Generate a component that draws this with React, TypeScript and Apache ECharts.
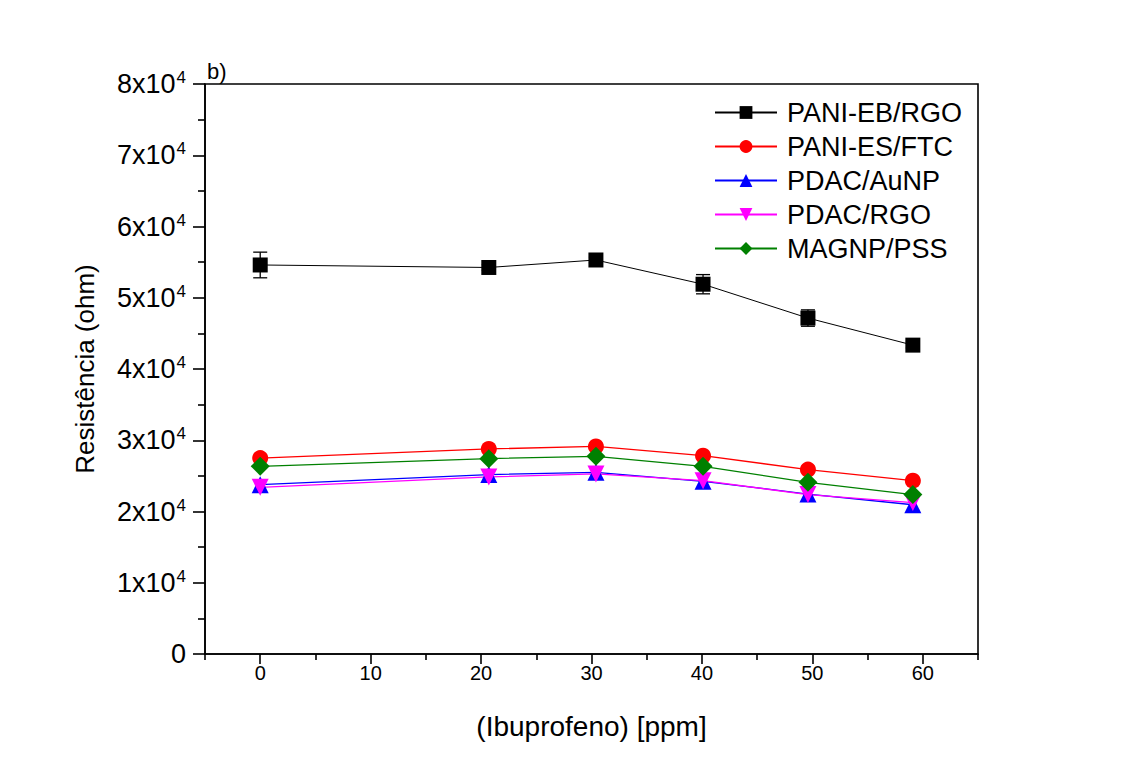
import React, { useEffect, useRef } from "react";
import * as echarts from "echarts";

const xValues = [0, 20.7, 30.4, 40.1, 49.6, 59.1];
const seriesNames = ["PANI-EB/RGO", "PANI-ES/FTC", "PDAC/AuNP", "PDAC/RGO", "MAGNP/PSS"];
const paniEbRgo = [54600, 54250, 55300, 51900, 47150, 43350];
const paniEbRgoErr = [1800, 400, 400, 1350, 1150, 400];
const paniEsFtc = [27500, 28780, 29140, 27840, 25880, 24330];
const pdacAunp = [23770, 25180, 25500, 24240, 22450, 20950];
const pdacRgo = [23390, 24850, 25270, 24330, 22370, 21250];
const magnpPss = [26340, 27420, 27740, 26340, 24100, 22370];
const yMajorTicks = [0, 10000, 20000, 30000, 40000, 50000, 60000, 70000, 80000];
const yMinorTicks = [5000, 15000, 25000, 35000, 45000, 55000, 65000, 75000];
const xMajorTicks = [0, 10, 20, 30, 40, 50, 60];
const xMinorTicks = [-5, 5, 15, 25, 35, 45, 55, 65];

const FONT = "'Liberation Sans', Arial, sans-serif";

export default function App() {
  const ref = useRef<HTMLDivElement>(null);
  useEffect(() => {
    if (!ref.current) return;
    const chart = echarts.init(ref.current, undefined, { renderer: "svg" });
    const pair = (arr: number[]) => xValues.map((x, i) => [x, arr[i]]);
    const mk = (name: string, data: number[], color: string, symbol: string, size: number, rotate = 0, width = 1.3) => ({
      name,
      type: "line",
      data: pair(data),
      symbol,
      symbolSize: size,
      symbolRotate: rotate,
      lineStyle: { color, width },
      itemStyle: { color },
      z: 3,
    });
    const errData = xValues.map((x, i) => [x, paniEbRgo[i] - paniEbRgoErr[i], paniEbRgo[i] + paniEbRgoErr[i]]);
    const axisLineStyle = { color: "#000", width: 1.6 };
    chart.setOption({
      animation: false,
      backgroundColor: "#ffffff",
      textStyle: { fontFamily: FONT },
      grid: {
        left: 205,
        right: 153,
        top: 84,
        bottom: 130,
        show: true,
        borderColor: "#000",
        borderWidth: 1.6,
        backgroundColor: "transparent",
      },
      graphic: [
        {
          type: "text",
          left: 207,
          top: 60,
          style: { text: "b)", fontSize: 22, fontFamily: FONT, fill: "#000" },
        },
      ],
      legend: {
        orient: "vertical",
        left: 709,
        top: 94,
        itemWidth: 62,
        itemHeight: 16,
        itemGap: 7,
        data: seriesNames,
        textStyle: { fontSize: 27, fontFamily: FONT, color: "#000", padding: [0, 0, 0, 5] },
      },
      xAxis: [
        {
          type: "value",
          min: -5,
          max: 65,
          interval: 5,
          name: "(Ibuprofeno) [ppm]",
          nameLocation: "middle",
          nameGap: 58,
          nameTextStyle: { fontSize: 28, fontFamily: FONT, color: "#000" },
          axisLine: { onZero: false, lineStyle: axisLineStyle },
          axisTick: { show: true, length: 10, customValues: xMajorTicks, lineStyle: axisLineStyle },
          splitLine: { show: false },
          axisLabel: {
            fontSize: 20,
            fontFamily: FONT,
            color: "#000",
            margin: 9,
            customValues: xMajorTicks,
          },
        },
        {
          type: "value",
          min: -5,
          max: 65,
          interval: 5,
          position: "bottom",
          axisLine: { show: false, onZero: false },
          axisTick: { show: true, length: 6, customValues: xMinorTicks, lineStyle: axisLineStyle },
          axisLabel: { show: false },
          splitLine: { show: false },
        },
      ],
      yAxis: [
        {
          type: "value",
          min: 0,
          max: 80000,
          interval: 10000,
          name: "Resistência (ohm)",
          nameLocation: "middle",
          nameGap: 107,
          nameRotate: 90,
          nameTextStyle: { fontSize: 26, fontFamily: FONT, color: "#000" },
          axisLine: { show: true, onZero: false, lineStyle: axisLineStyle },
          axisTick: { show: true, length: 12, customValues: yMajorTicks, lineStyle: axisLineStyle },
          splitLine: { show: false },
          axisLabel: {
            margin: 19,
            color: "#000",
            fontFamily: FONT,
            customValues: yMajorTicks,
            formatter: (v: number) => {
              if (v === 0) return "{b|0}";
              return `{b|${v / 10000}x10}{s|4}`;
            },
            rich: {
              b: { fontSize: 27, fontFamily: FONT, color: "#000", lineHeight: 30 },
              s: { fontSize: 17, fontFamily: FONT, color: "#000", verticalAlign: "top", lineHeight: 17, padding: [0, 0, 13, 1] },
            },
          },
        },
        {
          type: "value",
          min: 0,
          max: 80000,
          interval: 10000,
          position: "left",
          axisLine: { show: false, onZero: false },
          axisTick: { show: true, length: 7, customValues: yMinorTicks, lineStyle: axisLineStyle },
          axisLabel: { show: false },
          splitLine: { show: false },
        },
      ],
      series: [
        {
          name: "err",
          type: "custom",
          data: errData,
          z: 2,
          renderItem: (params: any, api: any) => {
            const x = api.value(0);
            const lo = api.coord([x, api.value(1)]);
            const hi = api.coord([x, api.value(2)]);
            const cap = 7;
            const style = { stroke: "#000", lineWidth: 1.3 };
            return {
              type: "group",
              children: [
                { type: "line", shape: { x1: lo[0], y1: lo[1], x2: hi[0], y2: hi[1] }, style },
                { type: "line", shape: { x1: lo[0] - cap, y1: lo[1], x2: lo[0] + cap, y2: lo[1] }, style },
                { type: "line", shape: { x1: hi[0] - cap, y1: hi[1], x2: hi[0] + cap, y2: hi[1] }, style },
              ],
            };
          },
        },
        mk(seriesNames[0], paniEbRgo, "#000000", "rect", 15, 0, 1),
        mk(seriesNames[1], paniEsFtc, "#ff0000", "circle", 16),
        mk(seriesNames[2], pdacAunp, "#0000ff", "triangle", 17),
        mk(seriesNames[3], pdacRgo, "#ff00ff", "triangle", 17, 180),
        mk(seriesNames[4], magnpPss, "#008000", "diamond", 19),
      ],
    });
    return () => chart.dispose();
  }, []);
  return <div ref={ref} style={{ width: 1131, height: 784, position: "absolute", left: 0, top: 0 }} />;
}
